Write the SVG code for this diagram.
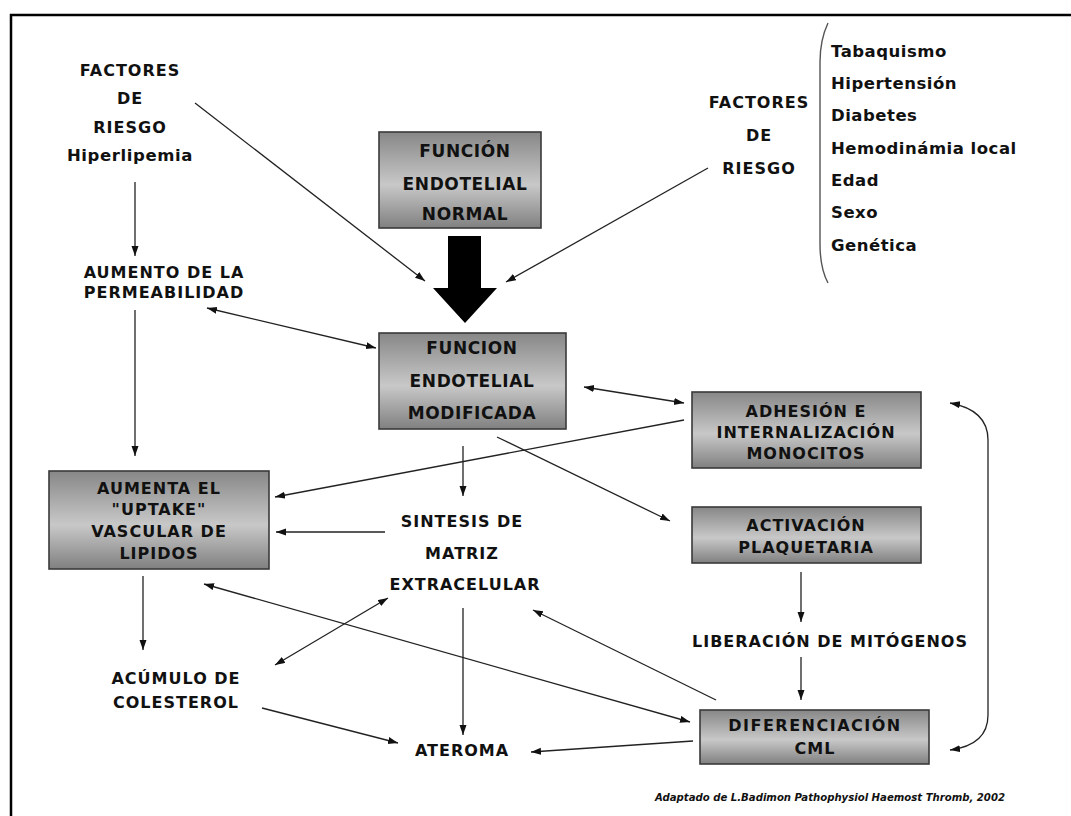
<svg xmlns="http://www.w3.org/2000/svg" width="1071" height="816" viewBox="0 0 1071 816">
<style>
.t{font-family:"DejaVu Sans","Liberation Sans",sans-serif;font-weight:bold;fill:#111;text-anchor:middle;font-size:16px;letter-spacing:1px}
.bx{fill:url(#g);stroke:#3a3a3a;stroke-width:1.6}
.bt{font-size:16px;letter-spacing:1px}
.big{font-size:17px;letter-spacing:0.6px}
.ls{text-anchor:start;font-size:16.5px;letter-spacing:0.5px}
.c{fill:none;stroke:#222;stroke-width:1.3}
.a{marker-end:url(#ah)}
.b{marker-start:url(#ah);marker-end:url(#ah)}
</style>
<defs>
<linearGradient id="g" x1="0" y1="0" x2="0" y2="1">
<stop offset="0" stop-color="#878787"/>
<stop offset="0.55" stop-color="#c8c8c8"/>
<stop offset="1" stop-color="#808080"/>
</linearGradient>
<marker id="ah" markerUnits="userSpaceOnUse" markerWidth="11" markerHeight="8" refX="10" refY="3.5" orient="auto-start-reverse">
<path d="M0,0 L10,3.5 L0,7 z" fill="#111"/>
</marker>
</defs>
<rect x="0" y="0" width="1071" height="816" fill="#fff"/>
<path d="M11 816 L11 15 L1071 15" fill="none" stroke="#000" stroke-width="2.5"/>

<g id="connectors">
<path class="c a" d="M195 103 L425 281"/>
<path class="c a" d="M708 168 L506 282"/>
<path class="c a" d="M135 182 L135 256"/>
<path class="c b" d="M207 308 L376 348"/>
<path class="c a" d="M135 310 L135 456"/>
<path class="c b" d="M584 387 L684 403"/>
<path class="c a" d="M684 420 L275 497"/>
<path class="c a" d="M463 446 L463 496"/>
<path class="c a" d="M497 437 L670 521"/>
<path class="c a" d="M385 532 L276 532"/>
<path class="c a" d="M143 576 L143 650"/>
<path class="c b" d="M275 665 L388 598"/>
<path class="c a" d="M463 608 L463 735"/>
<path class="c b" d="M204 584 L690 722"/>
<path class="c a" d="M716 700 L533 610"/>
<path class="c a" d="M262 708 L398 743"/>
<path class="c a" d="M693 741 L531 752"/>
<path class="c a" d="M801 572 L801 622"/>
<path class="c a" d="M801 657 L801 700"/>
<path class="c b" d="M950 403 Q988 410 988 440 L988 715 Q988 745 950 750"/>
<path d="M448 236 L481 236 L481 288 L497 288 L465 323 L433 288 L448 288 Z" fill="#000"/>
</g>

<g id="n-normal">
<rect class="bx" x="379" y="132" width="162" height="96"/>
<text class="t big" x="465" y="157">FUNCIÓN</text>
<text class="t big" x="465" y="190">ENDOTELIAL</text>
<text class="t big" x="465" y="220">NORMAL</text>
</g>
<g id="n-modificada">
<rect class="bx" x="379" y="333" width="187" height="96"/>
<text class="t big" x="472" y="354">FUNCION</text>
<text class="t big" x="472" y="387">ENDOTELIAL</text>
<text class="t big" x="472" y="419">MODIFICADA</text>
</g>
<g id="n-adhesion">
<rect class="bx" x="692" y="392" width="229" height="76"/>
<text class="t bt" x="806" y="417">ADHESIÓN E</text>
<text class="t bt" x="806" y="438">INTERNALIZACIÓN</text>
<text class="t bt" x="806" y="459">MONOCITOS</text>
</g>
<g id="n-activacion">
<rect class="bx" x="692" y="507" width="229" height="56"/>
<text class="t bt" x="806" y="531">ACTIVACIÓN</text>
<text class="t bt" x="806" y="553">PLAQUETARIA</text>
</g>
<g id="n-uptake">
<rect class="bx" x="49" y="471" width="220" height="98"/>
<text class="t bt" x="159" y="494">AUMENTA EL</text>
<text class="t bt" x="159" y="515">"UPTAKE"</text>
<text class="t bt" x="159" y="537">VASCULAR DE</text>
<text class="t bt" x="159" y="559">LIPIDOS</text>
</g>
<g id="n-cml">
<rect class="bx" x="700" y="710" width="229" height="54"/>
<text class="t bt" x="815" y="731" style="letter-spacing:1.5px">DIFERENCIACIÓN</text>
<text class="t bt" x="815" y="754">CML</text>
</g>
<g id="n-hiperlipemia">
<text class="t" x="130" y="76">FACTORES</text>
<text class="t" x="130" y="104">DE</text>
<text class="t" x="130" y="133">RIESGO</text>
<text class="t" x="130" y="161" style="font-size:16.5px;letter-spacing:0.6px">Hiperlipemia</text>
</g>
<g id="n-permeabilidad">
<text class="t" x="164" y="278">AUMENTO DE LA</text>
<text class="t" x="164" y="298">PERMEABILIDAD</text>
</g>
<g id="n-factores">
<text class="t" x="759" y="108">FACTORES</text>
<text class="t" x="759" y="141">DE</text>
<text class="t" x="759" y="174">RIESGO</text>
</g>
<g id="n-lista">
<path d="M828 23 Q820 40 820 62 L820 244 Q820 268 828 283" fill="none" stroke="#555" stroke-width="1.4"/>
<text class="t ls" x="831" y="57">Tabaquismo</text>
<text class="t ls" x="831" y="89">Hipertensión</text>
<text class="t ls" x="831" y="121">Diabetes</text>
<text class="t ls" x="831" y="154">Hemodinámia local</text>
<text class="t ls" x="831" y="186">Edad</text>
<text class="t ls" x="831" y="218">Sexo</text>
<text class="t ls" x="831" y="251">Genética</text>
</g>
<g id="n-matriz">
<text class="t" x="462" y="527">SINTESIS DE</text>
<text class="t" x="462" y="559">MATRIZ</text>
<text class="t" x="465" y="590">EXTRACELULAR</text>
</g>
<g id="n-mitogenos">
<text class="t" x="830" y="647">LIBERACIÓN DE MITÓGENOS</text>
</g>
<g id="n-colesterol">
<text class="t" x="176" y="684">ACÚMULO DE</text>
<text class="t" x="176" y="708">COLESTEROL</text>
</g>
<g id="n-ateroma">
<text class="t" x="462" y="756">ATEROMA</text>
</g>
<text x="655" y="801" textLength="350" lengthAdjust="spacingAndGlyphs" style="font-family:'DejaVu Sans','Liberation Sans',sans-serif;font-weight:bold;font-style:italic;font-size:10.5px;fill:#111">Adaptado de L.Badimon Pathophysiol Haemost Thromb, 2002</text>
</svg>
